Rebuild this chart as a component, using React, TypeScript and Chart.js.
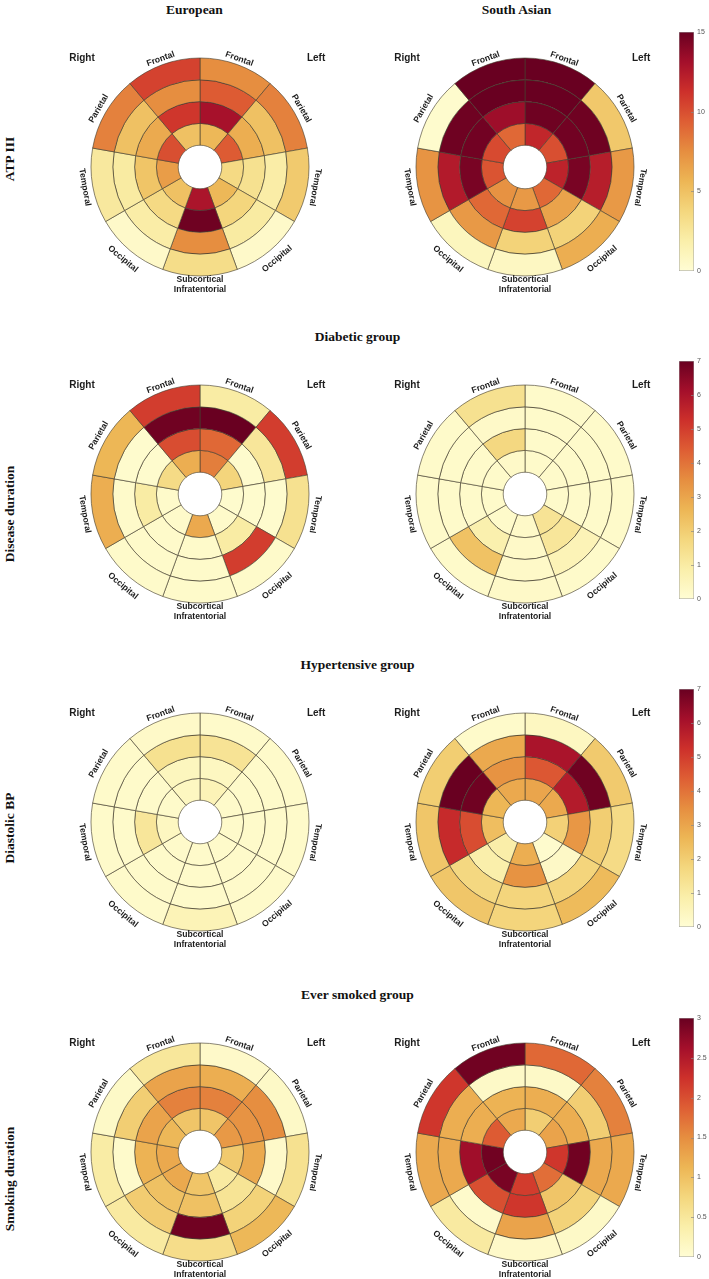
import React, { useEffect, useRef } from 'react';
import { Chart, registerables } from 'chart.js';

Chart.register(...registerables);

// ---------------- DATA ----------------
// Sectors clockwise from 12 o'clock (image right = left hemisphere)
const sectorLabels = [
  'Frontal', 'Parietal', 'Temporal', 'Occipital', 'Subcortical Infratentorial',
  'Occipital', 'Temporal', 'Parietal', 'Frontal',
];
const ringLabels = ['Ring 1 (outer)', 'Ring 2', 'Ring 3', 'Ring 4 (inner)'];
const sideLabels = ['Right', 'Left'];

const columnTitles = ['European', 'South Asian'];
const rowTitles = ['ATP III', 'Disease duration', 'Diastolic BP', 'Smoking duration'];
const groupTitles = ['Diabetic group', 'Hypertensive group', 'Ever smoked group'];

// each array: rings outer -> inner, each ring = 9 sectors (order as sectorLabels)
const atpEuropean = [
  [7.5, 8, 4.5, 0.5, 3.3, 0.5, 2.4, 8, 10.5],
  [9.5, 5, 2, 2.2, 7.5, 2, 2.2, 5, 7.5],
  [13, 6, 3, 3.8, 14.8, 3.5, 4.8, 6.2, 11],
  [5.5, 9.5, 3.5, 5.5, 12.8, 5, 6.8, 10, 5],
];
const atpSouthAsian = [
  [15, 4.6, 7, 6, 0.8, 1, 7.2, 0.3, 15],
  [15, 14.8, 12.3, 4, 4, 7, 12.5, 14.8, 15],
  [14.8, 14.7, 14.5, 6.5, 10.5, 9, 14.5, 14.7, 13.3],
  [11.8, 10, 12, 9, 7, 7.3, 9.8, 10.2, 9],
];
const diseaseEuropean = [
  [1, 5, 1.4, 0.2, 0.2, 0.2, 2.8, 2.6, 5],
  [7, 1.2, 0.15, 5, 0.2, 0.2, 0.2, 0.15, 6.9],
  [4.2, 0.15, 0.15, 1, 0.2, 0.2, 1, 0.15, 4.7],
  [3.8, 1.8, 0.15, 0.2, 2.9, 0.2, 0.2, 1.6, 2.8],
];
const diseaseSouthAsian = [
  [0.2, 0.2, 0.2, 0.2, 0.25, 0.2, 0.2, 0.2, 1.4],
  [0.2, 0.2, 0.2, 0.6, 0.25, 2.3, 0.2, 0.2, 0.25],
  [0.2, 0.2, 0.2, 1.2, 0.25, 0.8, 0.2, 0.2, 1.7],
  [0.2, 0.2, 0.2, 1.3, 0.25, 0.2, 0.2, 0.2, 0.25],
];
const bpEuropean = [
  [0.2, 0.2, 0.2, 0.2, 0.6, 0.2, 0.2, 0.2, 0.25],
  [1.3, 0.2, 0.2, 0.2, 0.2, 0.2, 0.2, 0.2, 1.4],
  [0.4, 0.2, 0.2, 0.2, 0.2, 0.2, 1.2, 0.2, 0.45],
  [0.6, 0.2, 0.2, 0.2, 0.2, 0.2, 0.4, 0.2, 0.4],
];
const bpSouthAsian = [
  [0.4, 2.1, 1.6, 2.5, 1.8, 2.2, 2.2, 2, 0.2],
  [6, 6.9, 2, 1.8, 1.8, 1.7, 5.4, 7, 2.9],
  [4.5, 5.8, 3.3, 0.3, 3.4, 0.85, 4.7, 6.9, 3.4],
  [3, 2.9, 1.9, 0.15, 2.8, 0.9, 2.4, 2.6, 2.9],
];
const smokingEuropean = [
  [0.1, 0.12, 0.6, 1.1, 0.65, 0.45, 0.42, 0.12, 0.5],
  [1.2, 1.5, 0.1, 0.8, 2.95, 0.87, 0.08, 0.85, 1.3],
  [1.6, 1.45, 1.25, 0.55, 1.0, 1.0, 1.15, 1.3, 1.6],
  [0.95, 1.4, 0.9, 0.45, 0.95, 1.25, 1.25, 1.1, 0.95],
];
const smokingSouthAsian = [
  [1.8, 1.6, 1.25, 0.12, 0.1, 0.45, 1.25, 2.2, 2.95],
  [0.12, 0.85, 1.25, 0.8, 1.3, 0.08, 1.25, 1.2, 0.12],
  [1.2, 1.2, 2.95, 0.95, 2.2, 2.0, 2.65, 1.2, 1.15],
  [0.85, 1.3, 2.2, 1.75, 2.15, 2.9, 2.95, 1.9, 1.25],
];

const atpMax = 15;
const diseaseMax = 7;
const bpMax = 7;
const smokingMax = 3;

const atpTicks = [0, 5, 10, 15];
const diseaseTicks = [0, 1, 2, 3, 4, 5, 6, 7];
const bpTicks = [0, 1, 2, 3, 4, 5, 6, 7];
const smokingTicks = [0, 0.5, 1, 1.5, 2, 2.5, 3];

const colormap = [
  '#FFFDD4', '#FAEFAA', '#F4D77E', '#EDB655', '#E68E40',
  '#DE5E34', '#CD302B', '#A40F2B', '#690021',
];

// ---------------- HELPERS ----------------
const SANS = '"Liberation Sans", Arial, Helvetica, sans-serif';
const SERIF = '"Liberation Serif", "Times New Roman", Times, serif';

function hexToRgb(h: string) {
  const n = parseInt(h.slice(1), 16);
  return [(n >> 16) & 255, (n >> 8) & 255, n & 255];
}
function colorAt(t: number) {
  const c = Math.max(0, Math.min(1, t));
  const p = c * (colormap.length - 1);
  const i = Math.min(Math.floor(p), colormap.length - 2);
  const f = p - i;
  const a = hexToRgb(colormap[i]);
  const b = hexToRgb(colormap[i + 1]);
  const m = a.map((v, k) => Math.round(v + (b[k] - v) * f));
  return `rgb(${m[0]},${m[1]},${m[2]})`;
}

const labelGap = [6, 8, 8, 11, 0, 11, 8, 8, 6];

const sectorLabelPlugin = {
  id: 'sectorLabels',
  afterDraw(chart: any) {
    const arcs = chart.getDatasetMeta(0).data;
    if (!arcs || !arcs.length) return;
    const { x, y, outerRadius } = arcs[0].getProps(['x', 'y', 'outerRadius'], true);
    const ctx = chart.ctx;
    ctx.save();
    ctx.fillStyle = '#1c1c1c';
    ctx.textAlign = 'center';
    ctx.textBaseline = 'middle';
    ctx.font = `bold 8.6px ${SANS}`;
    arcs.forEach((arc: any, i: number) => {
      const { startAngle, endAngle } = arc.getProps(['startAngle', 'endAngle'], true);
      const mid = (startAngle + endAngle) / 2;
      const label = String(chart.data.labels[i]);
      if (i === 4) {
        const parts = label.split(' ');
        ctx.fillText(parts[0], x, y + outerRadius + 3.5);
        ctx.fillText(parts[1], x, y + outerRadius + 14);
        return;
      }
      let deg = ((mid * 180) / Math.PI + 90) % 360;
      if (deg < 0) deg += 360;
      const r = outerRadius + labelGap[i];
      const rot = deg > 101 && deg < 299 ? deg - 180 : deg;
      ctx.save();
      ctx.translate(x + r * Math.cos(mid), y + r * Math.sin(mid));
      ctx.rotate((rot * Math.PI) / 180);
      ctx.fillText(label, 0, 0);
      ctx.restore();
    });
    ctx.font = `bold 10px ${SANS}`;
    ctx.fillText(sideLabels[0], x - outerRadius * 1.083, y - outerRadius);
    ctx.fillText(sideLabels[1], x + outerRadius * 1.065, y - outerRadius);
    ctx.restore();
  },
};

// ---------------- COMPONENTS ----------------
const BW = 300;
const BH = 280;
const RADIUS = 109;

function Bullseye({ values, max, cx, cy }: { values: number[][]; max: number; cx: number; cy: number }) {
  const ref = useRef<HTMLCanvasElement>(null);
  useEffect(() => {
    if (!ref.current) return;
    const chart = new Chart(ref.current, {
      type: 'doughnut',
      data: {
        labels: sectorLabels,
        datasets: values.map((ring, i) => ({
          label: ringLabels[i],
          data: ring.map(() => 1),
          backgroundColor: ring.map((v) => colorAt(v / max)),
          borderColor: 'rgba(70,64,48,0.9)',
          borderWidth: 0.7,
        })),
      },
      options: {
        responsive: false,
        animation: false,
        events: [],
        cutout: '20%',
        radius: RADIUS,
        layout: { padding: 0 },
        plugins: { legend: { display: false }, tooltip: { enabled: false } },
      } as any,
      plugins: [sectorLabelPlugin],
    });
    return () => chart.destroy();
  }, []);
  return (
    <canvas
      ref={ref}
      width={BW}
      height={BH}
      style={{ position: 'absolute', left: cx - BW / 2, top: cy - BH / 2, width: BW, height: BH }}
    />
  );
}

const CB_PAD = 8;
const CB_BAR = 15;
const CB_W = 30;

const colorbarTickPlugin = {
  id: 'cbTicks',
  afterDatasetsDraw(chart: any) {
    const s = chart.scales.y;
    const { right } = chart.chartArea;
    const ctx = chart.ctx;
    ctx.save();
    ctx.strokeStyle = '#8a8a8a';
    ctx.lineWidth = 0.7;
    s.ticks.forEach((t: any) => {
      if (t.value === s.min || t.value === s.max) return;
      const py = Math.round(s.getPixelForValue(t.value)) + 0.5;
      ctx.beginPath();
      ctx.moveTo(right - 3, py);
      ctx.lineTo(right, py);
      ctx.stroke();
    });
    ctx.restore();
  },
};

function ColorBar({ max, ticks, left, top, bottom }: { max: number; ticks: number[]; left: number; top: number; bottom: number }) {
  const ref = useRef<HTMLCanvasElement>(null);
  const h = bottom - top + 2 * CB_PAD;
  useEffect(() => {
    if (!ref.current) return;
    const chart = new Chart(ref.current, {
      type: 'bar',
      data: {
        labels: ['scale'],
        datasets: [
          {
            data: [max],
            backgroundColor: (c: any) => {
              const area = c.chart.chartArea;
              if (!area) return colormap[0];
              const g = c.chart.ctx.createLinearGradient(0, area.bottom, 0, area.top);
              colormap.forEach((col, i) => g.addColorStop(i / (colormap.length - 1), col));
              return g;
            },
            borderColor: '#9c9c9c',
            borderWidth: 0.8,
            borderSkipped: false,
            barPercentage: 1,
            categoryPercentage: 1,
          } as any,
        ],
      },
      options: {
        responsive: false,
        animation: false,
        events: [],
        layout: { padding: { top: CB_PAD, bottom: CB_PAD, left: 0, right: 0 } },
        plugins: { legend: { display: false }, tooltip: { enabled: false } },
        scales: {
          x: { display: false },
          y: {
            position: 'right',
            min: 0,
            max,
            grid: { display: false, drawTicks: false, tickLength: 0 },
            border: { display: false },
            afterBuildTicks: (s: any) => {
              s.ticks = ticks.map((v) => ({ value: v }));
            },
            afterFit: (s: any) => {
              s.width = CB_W - CB_BAR;
            },
            ticks: {
              font: { size: 7, family: SANS },
              color: '#555555',
              padding: 3,
              callback: (v: any) => String(v),
            },
          },
        },
      } as any,
      plugins: [colorbarTickPlugin],
    });
    return () => chart.destroy();
  }, []);
  return (
    <canvas
      ref={ref}
      width={CB_W}
      height={h}
      style={{ position: 'absolute', left, top: top - CB_PAD, width: CB_W, height: h }}
    />
  );
}

function SerifText({ text, cx, baseline }: { text: string; cx: number; baseline: number }) {
  return (
    <div
      style={{
        position: 'absolute',
        left: cx - 150,
        width: 300,
        top: baseline - 11.3,
        textAlign: 'center',
        fontFamily: SERIF,
        fontWeight: 'bold',
        fontSize: 13.5,
        lineHeight: '13.5px',
        color: '#111',
        whiteSpace: 'nowrap',
      }}
    >
      {text}
    </div>
  );
}

function RowTitle({ text, cx, cy }: { text: string; cx: number; cy: number }) {
  return (
    <div
      style={{
        position: 'absolute',
        left: cx,
        top: cy,
        transform: 'translate(-50%, -50%) rotate(-90deg)',
        fontFamily: SERIF,
        fontWeight: 'bold',
        fontSize: 13.5,
        lineHeight: '13.5px',
        color: '#111',
        whiteSpace: 'nowrap',
      }}
    >
      {text}
    </div>
  );
}

// ---------------- LAYOUT ----------------
const colX = [200, 525];
const rowY = [167, 494, 822, 1152];
const rowTitleY = [159, 514, 828, 1179];
const barSpans = [
  [32, 271],
  [361, 599],
  [689, 927],
  [1018, 1257],
];

const rows = [
  { eu: atpEuropean, sa: atpSouthAsian, max: atpMax, ticks: atpTicks },
  { eu: diseaseEuropean, sa: diseaseSouthAsian, max: diseaseMax, ticks: diseaseTicks },
  { eu: bpEuropean, sa: bpSouthAsian, max: bpMax, ticks: bpTicks },
  { eu: smokingEuropean, sa: smokingSouthAsian, max: smokingMax, ticks: smokingTicks },
];

export default function App() {
  return (
    <div
      style={{
        position: 'absolute',
        left: 0,
        top: 0,
        width: 709,
        height: 1279,
        background: '#ffffff',
        overflow: 'hidden',
      }}
    >
      <SerifText text={columnTitles[0]} cx={194.5} baseline={14} />
      <SerifText text={columnTitles[1]} cx={516.5} baseline={14} />
      {groupTitles.map((g, i) => (
        <SerifText key={g} text={g} cx={357.5} baseline={rowY[i + 1] - RADIUS - 44} />
      ))}
      {rowTitles.map((t, i) => (
        <RowTitle key={t} text={t} cx={9.5} cy={rowTitleY[i]} />
      ))}
      {rows.map((r, i) => (
        <React.Fragment key={i}>
          <Bullseye values={r.eu} max={r.max} cx={colX[0]} cy={rowY[i]} />
          <Bullseye values={r.sa} max={r.max} cx={colX[1]} cy={rowY[i]} />
          <ColorBar max={r.max} ticks={r.ticks} left={679} top={barSpans[i][0]} bottom={barSpans[i][1]} />
        </React.Fragment>
      ))}
    </div>
  );
}
